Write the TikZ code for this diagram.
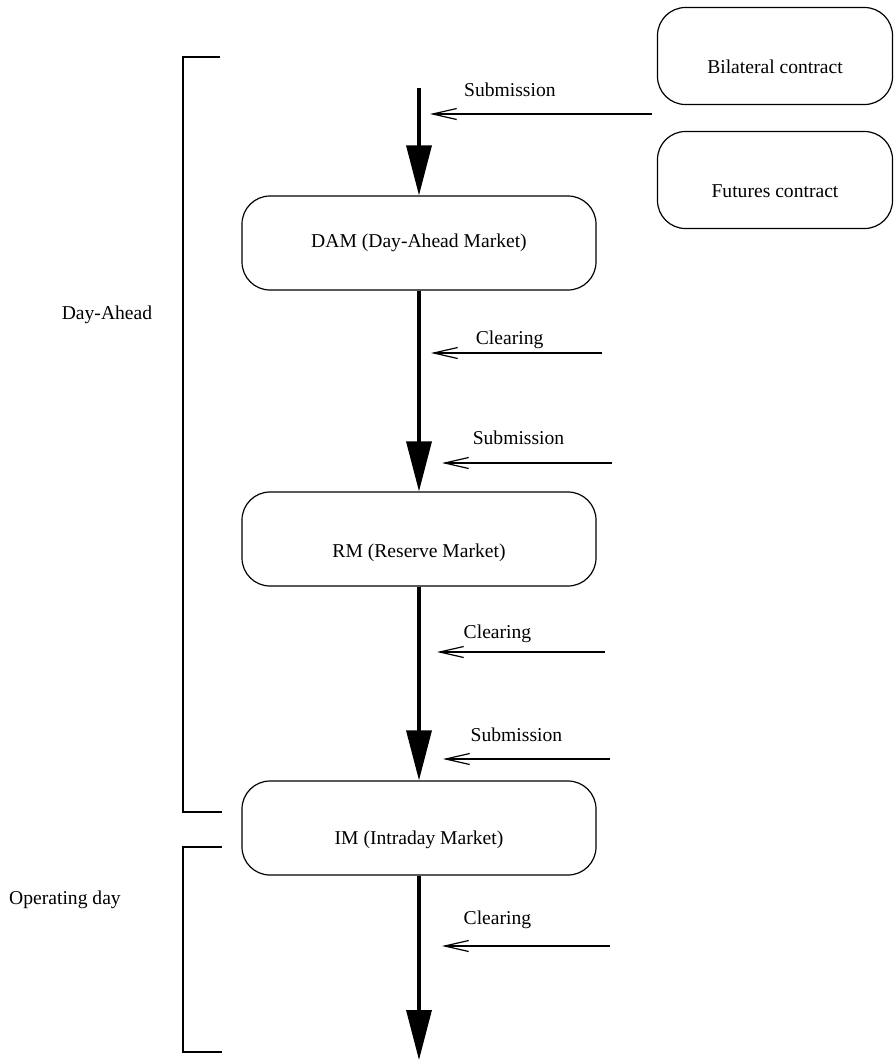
\documentclass[tikz,border=0pt]{standalone}
\usepackage{fontspec}
\setmainfont{Liberation Serif}
\usetikzlibrary{arrows.meta,positioning}
\tikzstyle{mkt} = [rectangle, rounded corners=14pt, minimum width=177pt, minimum height=47pt, text centered, draw=black, line width=0.6pt]
\tikzstyle{ctr} = [mkt, minimum width=117.5pt, minimum height=48.5pt, text height=17.6pt, text depth=0pt]
\tikzstyle{flow} = [line width=1.7pt, -{Triangle[length=25pt,width=12.5pt]}]
\tikzstyle{feed} = [line width=0.6pt, -{Straight Barb[length=12pt,width=5.5pt]}]
\tikzstyle{lbl} = [anchor=base, inner sep=0pt]

\begin{document}
\begin{tikzpicture}[x=0.5pt, y=-0.5pt, node distance=148pt, font=\fontsize{9.8pt}{12pt}\selectfont]
		\useasboundingbox (0,0) rectangle (894,1062);
		\node[mkt](dam) at (419,243){DAM (Day-Ahead Market)};
		\node[mkt, below of=dam, text height=18.6pt, text depth=0pt](rm){RM (Reserve Market)};
		\node[mkt, below of=rm, node distance=144.5pt, text height=16.6pt, text depth=0pt](im){IM (Intraday Market)};
		\node[ctr](bil) at (775,56){Bilateral contract};
		\node[ctr, below of=bil, node distance=62pt](fut){Futures contract};
		\node(dayahead) at (107,315){Day-Ahead};
		\node(opday) at (65,900){Operating day};

		% main flow
		\coordinate(start) at (419,88);
		\coordinate(fin) at (419,1060);
		\draw[flow](start)--(dam);
		\draw[flow](dam)--(rm);
		\draw[flow](rm)--(im);
		\draw[flow](im)--(fin);

		% submission / clearing
		\coordinate(sub1) at (652,114); \coordinate(sub1e) at (430,114);
		\coordinate(clr1) at (602,353); \coordinate(clr1e) at (431,353);
		\coordinate(sub2) at (612,463); \coordinate(sub2e) at (442,463);
		\coordinate(clr2) at (605,652); \coordinate(clr2e) at (437,652);
		\coordinate(sub3) at (610,759); \coordinate(sub3e) at (443,759);
		\coordinate(clr3) at (610,946); \coordinate(clr3e) at (442,946);
		\draw[feed](sub1)--node[lbl, pos=0.64, yshift=8.7pt]{Submission}(sub1e);
		\draw[feed](clr1)--node[lbl, pos=0.54, yshift=4.5pt]{Clearing}(clr1e);
		\draw[feed](sub2)--node[lbl, pos=0.55, yshift=9.2pt]{Submission}(sub2e);
		\draw[feed](clr2)--node[lbl, pos=0.64, yshift=6.7pt]{Clearing}(clr2e);
		\draw[feed](sub3)--node[lbl, pos=0.56, yshift=8.7pt]{Submission}(sub3e);
		\draw[feed](clr3)--node[lbl, pos=0.67, yshift=10.7pt]{Clearing}(clr3e);

		% brackets
		\draw[line width=0.7pt](220,57)--(183,57)--(183,812)--(222,812);
		\draw[line width=1.4pt](222,847)--(183,847)--(183,1052)--(222,1052);
	\end{tikzpicture}
\end{document}
